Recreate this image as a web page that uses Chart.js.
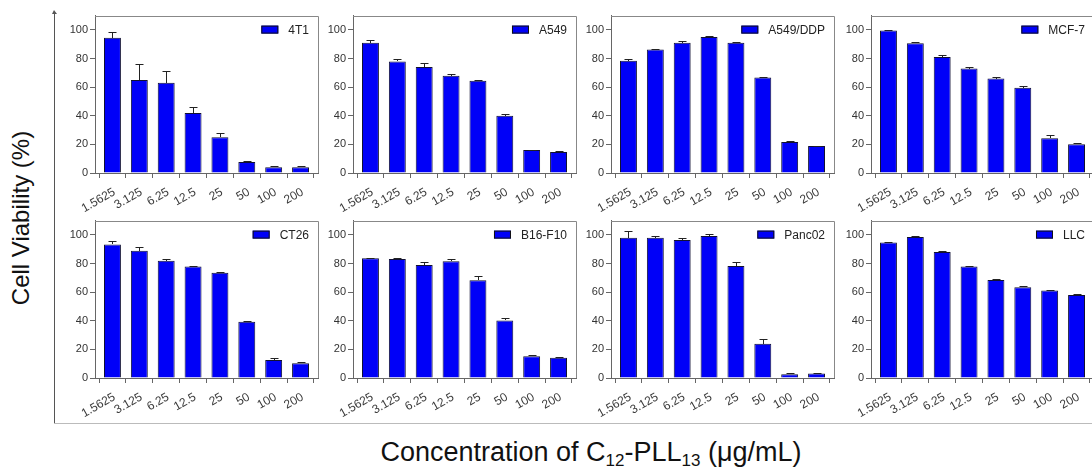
<!DOCTYPE html>
<html lang="en">
<head>
  <meta charset="UTF-8" />
  <title>Cell Viability</title>
  <style>
    html, body {
      margin: 0;
      padding: 0;
      background: #ffffff;
    }
    body {
      position: relative;
      width: 1092px;
      height: 470px;
      overflow: hidden;
      font-family: "Liberation Sans", Arial, sans-serif;
    }
    canvas {
      position: absolute;
    }
    .frame-left {
      position: absolute;
      left: 54px;
      top: 12px;
      width: 1px;
      height: 411px;
      background: #555;
    }
    .frame-arrow {
      position: absolute;
      left: 52px;
      top: 10px;
      width: 0;
      height: 0;
      border-left: 2px solid transparent;
      border-right: 3px solid transparent;
      border-bottom: 4px solid #555;
    }
    .frame-bottom {
      position: absolute;
      left: 54px;
      top: 423px;
      width: 1040px;
      height: 1px;
      background: #bbb;
    }
    .y-title {
      position: absolute;
      left: 21px;
      top: 218px;
      transform: translate(-50%, -50%) rotate(-90deg);
      white-space: nowrap;
      font-size: 24px;
      color: #111;
    }
    .x-title {
      position: absolute;
      left: 591px;
      top: 452px;
      transform: translate(-50%, -50%);
      white-space: nowrap;
      font-size: 27px;
      color: #111;
    }
    .x-title sub {
      font-size: 17px;
      vertical-align: -5px;
      line-height: 0;
    }
  </style>
</head>
<body>
  <div class="frame-left"></div>
  <div class="frame-arrow"></div>
  <div class="frame-bottom"></div>
  <div class="y-title">Cell Viability (%)</div>
  <div class="x-title">Concentration of C<sub>12</sub>-PLL<sub>13</sub> (μg/mL)</div>

  <canvas id="c0" width="268" height="214"></canvas>
  <canvas id="c1" width="268" height="214"></canvas>
  <canvas id="c2" width="268" height="214"></canvas>
  <canvas id="c3" width="268" height="214"></canvas>
  <canvas id="c4" width="268" height="214"></canvas>
  <canvas id="c5" width="268" height="214"></canvas>
  <canvas id="c6" width="268" height="214"></canvas>
  <canvas id="c7" width="268" height="214"></canvas>

  <script src="https://cdn.jsdelivr.net/npm/chart.js"></script>
  <script>
    const concLabels = ['1.5625', '3.125', '6.25', '12.5', '25', '50', '100', '200'];
    const yTicks = [0, 20, 40, 60, 80, 100];

    const v4T1 = [94.5, 65, 63, 42, 25, 7.7, 4, 4];
    const e4T1 = [4, 11, 8, 4, 3, 1, 0.6, 1.2];
    const vA549 = [91, 78, 74, 68, 64.4, 40, 16, 14.7];
    const eA549 = [2, 2, 3, 1.3, 0.5, 1.3, 0.4, 0.9];
    const vA549DDP = [78.5, 86.3, 91, 95, 91, 66.7, 21.7, 18.8];
    const eA549DDP = [1.4, 0.6, 1.2, 0.7, 0.6, 0.4, 0.6, 0.4];
    const vMCF7 = [99.5, 90.6, 81, 73, 66, 59.6, 24.2, 20.1];
    const eMCF7 = [0.6, 1.2, 1.5, 1, 1.3, 1.5, 2.7, 0.6];
    const vCT26 = [93.3, 89, 82, 77.9, 73.5, 39.3, 12.6, 10.3];
    const eCT26 = [2.5, 2.7, 1.3, 0.6, 0.8, 0.6, 1.3, 0.6];
    const vB16F10 = [83.7, 83.2, 79, 81.6, 68.4, 40.2, 15.2, 14.1];
    const eB16F10 = [0.3, 0.4, 1.8, 1.6, 3, 1.6, 0.6, 0.6];
    const vPanc02 = [98, 98, 96.4, 99.3, 78.2, 23.9, 2.7, 3.2];
    const ePanc02 = [4.8, 1.2, 1.6, 1.3, 2.7, 3.4, 0.5, 0.3];
    const vLLC = [94.7, 98.6, 88.1, 77.9, 68.5, 63.5, 61.2, 58];
    const eLLC = [0.5, 0.5, 0.5, 0.2, 0.4, 0.6, 0.6, 0.6];

    const panels = [
      { label: '4T1', values: v4T1, errors: e4T1 },
      { label: 'A549', values: vA549, errors: eA549 },
      { label: 'A549/DDP', values: vA549DDP, errors: eA549DDP },
      { label: 'MCF-7', values: vMCF7, errors: eMCF7 },
      { label: 'CT26', values: vCT26, errors: eCT26 },
      { label: 'B16-F10', values: vB16F10, errors: eB16F10 },
      { label: 'Panc02', values: vPanc02, errors: ePanc02 },
      { label: 'LLC', values: vLLC, errors: eLLC }
    ];

    // panel placement: y-axis x position per column, frame top per row
    const colAxisX = [95, 353, 611, 871];
    const rowTop = [13, 218];
    const FONT = '"Liberation Sans", Arial, sans-serif';
    const BAR_BLUE = '#0000f8';

    // top + right frame lines of each plot
    const framePlugin = {
      id: 'frame',
      afterDraw(chart) {
        const { ctx, chartArea: a } = chart;
        ctx.save();
        ctx.strokeStyle = '#888';
        ctx.lineWidth = 1;
        ctx.beginPath();
        ctx.moveTo(Math.round(a.left), Math.round(a.top) + 0.5);
        ctx.lineTo(Math.round(a.right) + 0.5, Math.round(a.top) + 0.5);
        ctx.lineTo(Math.round(a.right) + 0.5, Math.round(a.bottom));
        ctx.stroke();
        ctx.restore();
      }
    };

    // upward SD bars with caps
    const errorBarPlugin = {
      id: 'errorBars',
      afterDatasetsDraw(chart) {
        const { ctx } = chart;
        const yScale = chart.scales.y;
        chart.data.datasets.forEach((ds, di) => {
          const meta = chart.getDatasetMeta(di);
          meta.data.forEach((bar, i) => {
            const x = Math.round(bar.x) + 0.5;
            const yTop = Math.round(yScale.getPixelForValue(ds.values[i] + ds.errors[i])) + 0.5;
            const yBar = Math.round(bar.y);
            ctx.save();
            ctx.strokeStyle = '#222';
            ctx.lineWidth = 1;
            ctx.beginPath();
            ctx.moveTo(x, yBar);
            ctx.lineTo(x, yTop);
            ctx.moveTo(x - 4, yTop);
            ctx.lineTo(x + 4, yTop);
            ctx.stroke();
            ctx.restore();
          });
        });
      }
    };

    // legend box + label in top-right corner of the plot
    const cornerLegendPlugin = {
      id: 'cornerLegend',
      afterDraw(chart) {
        const { ctx, chartArea: a } = chart;
        const text = chart.data.datasets[0].label;
        ctx.save();
        ctx.font = '12px ' + FONT;
        const tw = ctx.measureText(text).width;
        const textX = a.right - 9 - tw;
        const cy = a.top + 14;
        ctx.fillStyle = BAR_BLUE;
        ctx.fillRect(textX - 27, cy - 4, 17, 8);
        ctx.strokeStyle = '#111';
        ctx.lineWidth = 1;
        ctx.strokeRect(textX - 27 + 0.5, cy - 4 + 0.5, 16, 7);
        ctx.fillStyle = '#222';
        ctx.textBaseline = 'middle';
        ctx.fillText(text, textX, cy + 1);
        ctx.restore();
      }
    };

    panels.forEach((p, idx) => {
      const col = idx % 4;
      const row = Math.floor(idx / 4);
      const canvas = document.getElementById('c' + idx);
      canvas.style.left = (colAxisX[col] - 42) + 'px';
      canvas.style.top = (rowTop[row] - 6) + 'px';

      new Chart(canvas, {
        type: 'bar',
        data: {
          datasets: [{
            label: p.label,
            data: p.values.map((v, i) => ({ x: i, y: v })),
            values: p.values,
            errors: p.errors,
            backgroundColor: BAR_BLUE,
            borderColor: '#111133',
            borderWidth: 1,
            barPercentage: 0.63,
            categoryPercentage: 1
          }]
        },
        options: {
          responsive: false,
          devicePixelRatio: 1,
          animation: false,
          layout: { padding: { top: 6, right: 3, left: 0, bottom: 0 } },
          plugins: {
            legend: { display: false },
            tooltip: { enabled: false }
          },
          scales: {
            x: {
              type: 'linear',
              min: -0.65,
              max: 7.65,
              offset: false,
              afterBuildTicks(scale) {
                scale.ticks = concLabels.map((_, i) => ({ value: i }));
              },
              afterFit(scale) { scale.height = 48; },
              grid: {
                drawOnChartArea: false,
                drawTicks: true,
                tickLength: 5,
                color: '#666'
              },
              border: { display: true, color: '#666' },
              ticks: {
                autoSkip: false,
                minRotation: 30,
                maxRotation: 30,
                padding: 7,
                labelOffset: 2,
                color: '#3a3a3a',
                font: { family: FONT, size: 12 },
                callback: (v) => concLabels[v]
              }
            },
            y: {
              min: 0,
              max: 110,
              afterBuildTicks(scale) {
                scale.ticks = yTicks.map(v => ({ value: v }));
              },
              afterFit(scale) { scale.width = 42; },
              grid: {
                drawOnChartArea: false,
                drawTicks: true,
                tickLength: 5,
                color: '#666'
              },
              border: { display: true, color: '#666' },
              ticks: {
                padding: 2,
                color: '#333',
                font: { family: FONT, size: 11 }
              }
            }
          }
        },
        plugins: [framePlugin, errorBarPlugin, cornerLegendPlugin]
      });
    });
  </script>
</body>
</html>
